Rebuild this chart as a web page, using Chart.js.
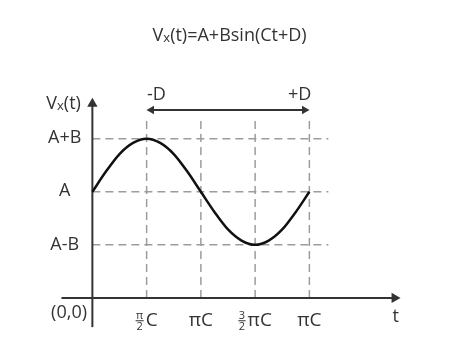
<!DOCTYPE HTML>
<html>
<head>
    <title>Vx(t)=A+Bsin(Ct+D)</title>
    <meta charset="utf-8" />
    <script src="https://cdn.jsdelivr.net/npm/chart.js@4.4.1/dist/chart.umd.min.js"></script>
    <style>
        body { margin: 0; background: #fff; }
        #container { width: 458px; height: 363px; }
    </style>
</head>
<body>
    <div id="container"><canvas id="chartCanvas"></canvas></div>

    <script>
        // x in units of (pi/2)C, y in units of B measured from A
        const curve_t = [0, 0.25, 0.5, 0.75, 1, 1.25, 1.5, 1.75, 2, 2.25, 2.5, 2.75, 3, 3.25, 3.5, 3.75, 4];
        const curve_v = [0, 0.38, 0.71, 0.92, 1, 0.92, 0.71, 0.38, 0, -0.38, -0.71, -0.92, -1, -0.92, -0.71, -0.38, 0];

        const grid_x = [1, 2, 3, 4];
        const grid_y = [1, 0, -1];
        const y_tick_labels = ["A+B", "A", "A-B"];
        const x_tick_frac = [["π", "2"], null, ["3", "2"], null];
        const x_tick_text = ["C", "πC", "πC", "πC"];

        const axis_y_level = -2;   // where the t axis sits
        const text_color = "#333";
        const font_family = "'Open Sans', sans-serif";
        const font_size = 18;
        const grid_color = "#9c9c9c";
        const dash = [8, 5];

        function segments(list) {
            // list of [x0, y0, x1, y1] -> points with null gaps
            let out = [];
            list.forEach(s => {
                out.push({ x: s[0], y: s[1] }, { x: s[2], y: s[3] }, { x: s[2], y: null });
            });
            return out;
        }

        const grid_v_data = segments(grid_x.map(x => [x, axis_y_level, x, 1.34]));
        const grid_h_data = segments(grid_y.map(y => [0, y, 4.35, y]));

        function draw_parts(ctx, parts, cx, cy) {
            let total = 0;
            parts.forEach(p => {
                ctx.font = (p.size || font_size) + "px " + font_family;
                p.w = ctx.measureText(p.t).width;
                total += p.w;
            });
            let x = cx - total / 2;
            const base = cy + font_size * 0.26;
            parts.forEach(p => {
                ctx.font = (p.size || font_size) + "px " + font_family;
                ctx.fillText(p.t, x, base + (p.dy || 0));
                x += p.w;
            });
        }

        function draw_tick(ctx, frac, text, cx, cy) {
            const big = 19, small = 11;
            ctx.font = small + "px " + font_family;
            let fw = 0;
            if (frac) fw = Math.max(ctx.measureText(frac[0]).width, ctx.measureText(frac[1]).width) + 1;
            ctx.font = big + "px " + font_family;
            const tw = ctx.measureText(text).width;
            const gap = frac ? 2 : 0;
            let x = cx - (fw + gap + tw) / 2;
            if (frac) {
                ctx.font = small + "px " + font_family;
                ctx.textAlign = 'center';
                ctx.fillText(frac[0], x + fw / 2, cy - 2);
                ctx.fillText(frac[1], x + fw / 2, cy + 9);
                ctx.textAlign = 'left';
                ctx.fillRect(x, cy - 0.5, fw, 1);
            }
            ctx.font = big + "px " + font_family;
            ctx.fillText(text, x + fw + gap, cy + big * 0.3);
        }

        const labels_plugin = {
            id: 'labels',
            afterDraw(chart) {
                const ctx = chart.ctx;
                const px = v => chart.scales.x.getPixelForValue(v);
                const py = v => chart.scales.y.getPixelForValue(v);
                ctx.save();
                ctx.fillStyle = text_color;
                ctx.textAlign = 'left';
                ctx.textBaseline = 'alphabetic';

                // title
                draw_parts(ctx, [{ t: "V" }, { t: "x", size: 13, dy: 1 }, { t: "(t)=A+Bsin(Ct+D)" }], px(2.53), py(2.93));
                // y axis name
                draw_parts(ctx, [{ t: "V" }, { t: "x", size: 13, dy: 1 }, { t: "(t)" }], px(-0.53), py(1.64));
                // y tick labels
                grid_y.forEach((v, i) => draw_parts(ctx, [{ t: y_tick_labels[i] }], px(-0.51), py(v)));
                // origin
                draw_parts(ctx, [{ t: "(0,0)" }], px(-0.43), py(-2.29));
                // t axis name
                draw_parts(ctx, [{ t: "t" }], px(5.59), py(-2.36));
                // x tick labels
                grid_x.forEach((v, i) => draw_tick(ctx, x_tick_frac[i], x_tick_text[i], px(v), py(-2.43)));
                // phase arrow labels
                draw_parts(ctx, [{ t: "-D" }], px(1.18), py(1.82));
                draw_parts(ctx, [{ t: "+D" }], px(3.82), py(1.82));
                ctx.restore();
            }
        };

        const config = {
            type: 'line',
            data: {
                datasets: [
                    {
                        label: 'Vx(t)',
                        data: curve_t.map((t, i) => ({ x: t, y: curve_v[i] })),
                        borderColor: '#111',
                        borderWidth: 2.5,
                        pointRadius: 0,
                        cubicInterpolationMode: 'monotone',
                        order: 0
                    },
                    {
                        label: 'y axis',
                        data: [{ x: 0, y: -2.55 }, { x: 0, y: 1.66 }],
                        borderColor: '#333',
                        backgroundColor: '#333',
                        borderWidth: 2,
                        pointRadius: [0, 6],
                        pointStyle: 'triangle',
                        pointRotation: 0,
                        pointBorderWidth: 0,
                        order: 1
                    },
                    {
                        label: 't axis',
                        data: [{ x: -0.57, y: axis_y_level }, { x: 5.57, y: axis_y_level }],
                        borderColor: '#333',
                        backgroundColor: '#333',
                        borderWidth: 2,
                        pointRadius: [0, 6],
                        pointStyle: 'triangle',
                        pointRotation: 90,
                        pointBorderWidth: 0,
                        order: 1
                    },
                    {
                        label: 'D arrow',
                        data: [{ x: 1.09, y: 1.54 }, { x: 3.91, y: 1.54 }],
                        borderColor: '#333',
                        backgroundColor: '#333',
                        borderWidth: 2,
                        pointRadius: 5,
                        pointStyle: 'triangle',
                        pointRotation: [270, 90],
                        pointBorderWidth: 0,
                        order: 1
                    },
                    {
                        label: 'grid v',
                        data: grid_v_data,
                        borderColor: grid_color,
                        borderWidth: 1.5,
                        borderDash: dash,
                        pointRadius: 0,
                        spanGaps: false,
                        order: 2
                    },
                    {
                        label: 'grid h',
                        data: grid_h_data,
                        borderColor: grid_color,
                        borderWidth: 1.5,
                        borderDash: dash,
                        pointRadius: 0,
                        spanGaps: false,
                        order: 2
                    }
                ]
            },
            options: {
                responsive: true,
                maintainAspectRatio: false,
                animation: false,
                events: [],
                layout: { padding: { left: 11, right: 13, top: 2, bottom: 12 } },
                plugins: {
                    legend: { display: false },
                    tooltip: { enabled: false },
                    title: { display: false }
                },
                scales: {
                    x: { type: 'linear', min: -1.5, max: 6.5, display: false },
                    y: { type: 'linear', min: -3, max: 3.5, display: false }
                }
            },
            plugins: [labels_plugin]
        };

        new Chart(document.getElementById('chartCanvas'), config);
    </script>
</body>
</html>
